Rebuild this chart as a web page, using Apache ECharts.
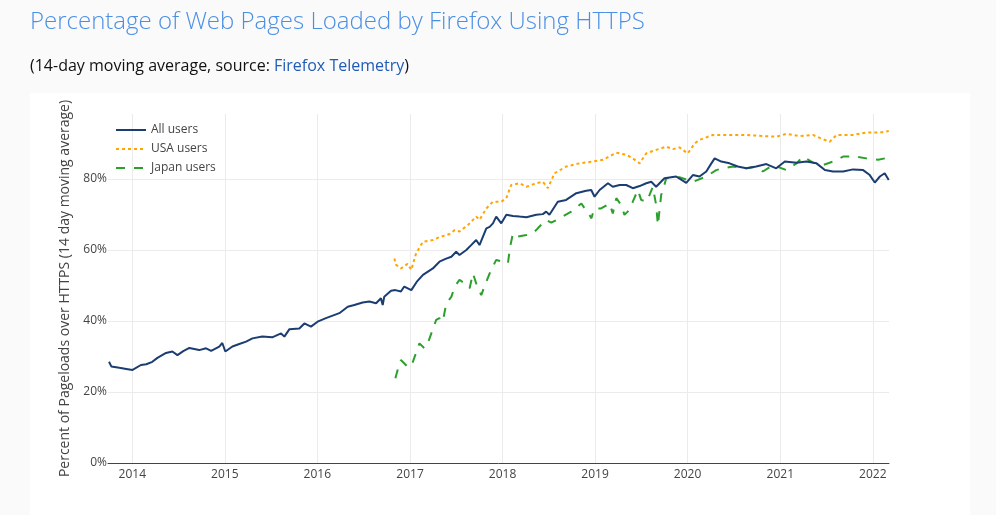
<!DOCTYPE html>
<html>
<head>
<meta charset="utf-8">
<script src="https://cdn.jsdelivr.net/npm/echarts@6/dist/echarts.min.js"></script>
<style>
html,body{margin:0;padding:0;background:#fafafa;}
#chart{width:996px;height:515px;}
</style>
</head>
<body>
<div id="chart"></div>
<script>
var allDates = ['2013-10-01','2013-10-10','2013-11-11','2013-12-08','2014-01-02','2014-01-09','2014-02-04','2014-02-25','2014-03-21','2014-04-10','2014-05-14','2014-06-08','2014-06-28','2014-07-21','2014-08-14','2014-09-22','2014-10-19','2014-11-08','2014-12-10','2014-12-22','2015-01-03','2015-01-31','2015-02-27','2015-03-26','2015-04-20','2015-05-29','2015-07-07','2015-08-11','2015-08-24','2015-09-13','2015-10-22','2015-11-11','2015-12-07','2016-01-02','2016-02-04','2016-03-28','2016-04-30','2016-05-26','2016-06-28','2016-07-24','2016-08-20','2016-09-08','2016-09-15','2016-09-21','2016-10-18','2016-11-04','2016-11-26','2016-12-09','2017-01-06','2017-01-27','2017-02-21','2017-04-01','2017-04-27','2017-05-21','2017-06-13','2017-07-02','2017-07-15','2017-08-11','2017-09-01','2017-09-19','2017-10-02','2017-10-29','2017-11-11','2017-11-24','2017-12-07','2017-12-27','2018-01-16','2018-02-11','2018-03-09','2018-04-05','2018-05-14','2018-06-09','2018-06-22','2018-07-05','2018-08-07','2018-09-09','2018-10-19','2018-11-27','2018-12-17','2018-12-30','2019-01-19','2019-02-21','2019-03-12','2019-04-08','2019-05-04','2019-05-30','2019-06-26','2019-07-22','2019-08-11','2019-08-30','2019-10-02','2019-11-17','2019-12-27','2020-01-22','2020-02-17','2020-03-15','2020-04-04','2020-04-17','2020-05-13','2020-06-15','2020-07-17','2020-08-20','2020-09-28','2020-11-07','2020-12-16','2021-01-19','2021-03-06','2021-04-14','2021-05-24','2021-06-26','2021-07-28','2021-09-06','2021-10-15','2021-11-24','2021-12-20','2022-01-09','2022-01-29','2022-02-17','2022-03-05'];
var allValues = [28.5,27.2,26.8,26.5,26.2,25.7,27.6,27.8,28.5,29.6,31.0,31.4,30.4,31.5,32.4,31.8,32.3,31.6,32.8,33.8,31.4,32.8,33.5,34.2,35.1,35.6,35.4,36.5,35.6,37.7,37.9,39.3,38.4,39.8,40.8,42.2,44.0,44.5,45.2,45.5,45.0,46.4,44.5,46.8,48.5,48.7,48.3,49.7,48.7,51.0,53.0,54.8,56.7,57.5,58.1,59.5,58.6,60.0,61.5,62.8,61.4,66.1,66.5,67.5,69.4,67.5,69.9,69.6,69.4,69.2,69.9,70.1,70.8,69.9,73.6,74.1,76.0,76.7,76.9,75.0,76.9,78.8,77.8,78.3,78.3,77.4,78.0,78.8,79.2,77.8,80.2,80.7,78.9,81.1,80.7,82.1,84.4,85.8,84.9,84.4,83.5,83.0,83.5,84.2,83.0,84.9,84.6,84.9,84.4,82.5,82.1,82.1,82.7,82.5,81.1,79.0,80.7,81.6,79.7];

var usaDates = ['2016-10-31','2016-11-07','2016-11-26','2016-12-22','2017-01-06','2017-01-25','2017-02-21','2017-04-01','2017-04-27','2017-06-06','2017-06-26','2017-07-15','2017-08-17','2017-09-19','2017-10-02','2017-10-29','2017-11-24','2017-12-27','2018-01-16','2018-02-04','2018-03-09','2018-04-05','2018-05-14','2018-06-09','2018-06-29','2018-07-25','2018-09-09','2018-11-01','2018-12-23','2019-02-01','2019-03-26','2019-05-04','2019-05-30','2019-06-26','2019-07-22','2019-08-30','2019-10-09','2019-11-04','2019-11-30','2020-01-02','2020-01-29','2020-02-17','2020-04-10','2020-06-15','2020-08-20','2020-10-24','2020-12-16','2021-01-25','2021-03-18','2021-05-10','2021-06-18','2021-07-15','2021-08-11','2021-10-15','2021-12-07','2022-01-29','2022-03-05'];
var usaValues = [57.6,55.8,54.8,56.1,54.4,59.1,62.3,62.8,63.6,64.5,65.6,65.2,67.0,69.4,68.5,71.7,73.6,73.6,74.6,78.3,78.8,77.8,78.8,79.2,77.4,81.6,83.5,84.4,84.9,85.4,87.4,86.8,85.8,84.4,87.2,88.2,89.1,88.4,88.9,87.2,90.0,91.0,92.4,92.4,92.4,92.1,91.9,92.7,92.1,92.4,91.2,90.5,92.4,92.4,93.1,93.1,93.5];

var japanDates = ['2016-11-04','2016-11-13','2016-11-26','2016-12-22','2017-01-06','2017-01-19','2017-02-07','2017-02-27','2017-03-12','2017-03-26','2017-04-14','2017-04-27','2017-05-10','2017-05-24','2017-06-13','2017-06-26','2017-07-15','2017-08-04','2017-08-24','2017-09-06','2017-09-19','2017-10-09','2017-10-29','2017-11-17','2017-12-07','2018-01-02','2018-01-22','2018-01-31','2018-02-11','2018-03-02','2018-04-05','2018-05-01','2018-05-20','2018-06-22','2018-07-12','2018-08-14','2018-09-29','2018-11-08','2018-11-21','2018-12-04','2018-12-17','2018-12-30','2019-01-25','2019-02-27','2019-03-12','2019-03-26','2019-04-14','2019-04-27','2019-05-10','2019-05-30','2019-06-19','2019-07-02','2019-07-22','2019-08-04','2019-08-17','2019-08-30','2019-09-06','2019-09-19','2019-09-26','2019-10-09','2019-11-30','2020-01-22','2020-03-15','2020-04-23','2020-05-19','2020-06-28','2020-08-20','2020-09-28','2020-10-24','2020-12-03','2021-01-25','2021-03-06','2021-04-01','2021-05-10','2021-06-18','2021-07-28','2021-09-06','2021-10-29','2021-12-07','2022-01-22','2022-03-02'];
var japanValues = [23.9,26.2,29.0,27.1,27.3,29.9,33.7,32.3,33.7,36.5,40.3,40.8,39.8,45.0,46.8,49.7,51.6,50.6,49.2,53.4,50.6,47.3,51.1,54.4,57.2,56.7,56.2,60.9,64.7,63.8,64.2,64.7,66.1,68.5,67.7,68.9,70.8,73.1,71.7,70.8,68.9,71.7,71.7,73.1,70.3,74.6,72.7,69.9,70.8,73.6,76.9,74.1,73.6,75.5,77.8,72.7,67.0,75.5,76.9,80.2,80.5,79.2,80.7,82.5,83.0,83.5,83.0,83.5,82.1,83.9,82.5,84.4,86.3,84.6,83.9,84.9,86.3,86.3,85.8,85.4,86.0];

var seriesNames = ['All users','USA users','Japan users'];
var yTicks = [0,20,40,60,80];

function pairs(d, v){ return d.map(function(x,i){ return [x, v[i]]; }); }

var chart = echarts.init(document.getElementById('chart'), null, {renderer:'canvas'});
var axisColor = '#444';
chart.setOption({
  backgroundColor: '#fafafa',
  animation: false,
  textStyle: {fontFamily: 'Open Sans'},
  graphic: [
    {type:'rect', z:-10, shape:{x:30,y:93,width:940,height:430}, style:{fill:'#ffffff'}},
    {type:'text', left:30, top:10, style:{text:'Percentage of Web Pages Loaded by Firefox Using HTTPS', fill:'#4a8fe6', font:'300 24px "Open Sans"'}},
    {type:'text', left:30, top:58, style:{
      text:'{a|(14-day moving average, source: }{b|Firefox Telemetry}{a|)}',
      rich:{a:{fill:'#111', fontSize:16, fontFamily:'Open Sans'}, b:{fill:'#1f5cb8', fontSize:16, fontFamily:'Open Sans'}}
    }}
  ],
  grid: {left:108, right:107, top:114, bottom:52, containLabel:false},
  legend: {
    orient:'vertical', left:110, top:119, itemWidth:30, itemHeight:12, itemGap:7,
    data: seriesNames,
    itemStyle:{opacity:0},
    textStyle:{color:axisColor, fontSize:12, fontFamily:'Open Sans'}
  },
  xAxis: {
    type:'time', min:'2013-09-27', max:'2022-03-06',
    minInterval: 365*24*3600*1000, maxInterval: 366*24*3600*1000,
    axisLine:{show:true, lineStyle:{color:'#444', width:1}},
    axisTick:{show:false},
    axisLabel:{formatter:'{yyyy}', color:axisColor, fontSize:12, showMinLabel:false, showMaxLabel:false, margin:6, fontFamily:'Open Sans'},
    splitLine:{show:true, showMinLine:false, showMaxLine:false, lineStyle:{color:'#ebebeb', width:1}}
  },
  yAxis: {
    type:'value', min:0, max:98.3, interval:20,
    name:'Percent of Pageloads over HTTPS (14 day moving average)',
    nameLocation:'middle', nameGap:29, nameRotate:90,
    nameTextStyle:{color:axisColor, fontSize:14, fontFamily:'Open Sans'},
    axisLine:{show:false}, axisTick:{show:false},
    axisLabel:{formatter:'{value}%', color:axisColor, fontSize:12, showMaxLabel:false, margin:1, fontFamily:'Open Sans'},
    splitLine:{show:true, showMinLine:false, showMaxLine:false, lineStyle:{color:'#ebebeb', width:1}}
  },
  series: [
    {name:seriesNames[0], type:'line', symbol:'none', data:pairs(allDates, allValues), z:4,
     lineStyle:{color:'#1b3d72', width:2}, itemStyle:{color:'#1b3d72'}},
    {name:seriesNames[1], type:'line', symbol:'none', data:pairs(usaDates, usaValues), z:3,
     lineStyle:{color:'#ffa500', width:2, type:[3,3]}, itemStyle:{color:'#ffa500'}},
    {name:seriesNames[2], type:'line', symbol:'none', data:pairs(japanDates, japanValues), z:3,
     lineStyle:{color:'#2ca02c', width:2, type:[9,9]}, itemStyle:{color:'#2ca02c'}}
  ]
});
</script>
</body>
</html>
